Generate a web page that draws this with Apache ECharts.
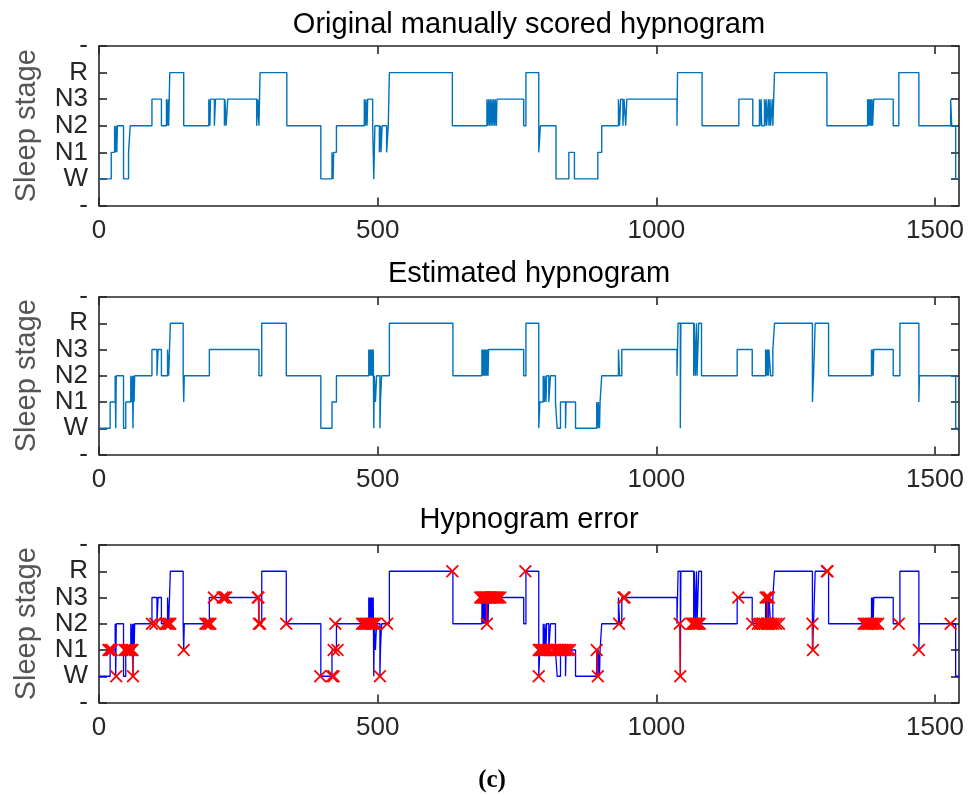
<!DOCTYPE html>
<html>
<head>
<meta charset="utf-8">
<script src="https://cdn.jsdelivr.net/npm/echarts@6/dist/echarts.min.js"></script>
<style>html,body{margin:0;padding:0;background:#fff}#c{width:973px;height:796px}</style>
</head>
<body>
<div id="c"></div>
<script>
// stage codes: 0=W, 1=N1, 2=N2, 3=N3, 4=R ; each pair = [epoch where stage starts, stage]
const stageLabels = ['-', 'W', 'N1', 'N2', 'N3', 'R', '-'];
const xTicks = [0, 500, 1000, 1500];
const lastEpoch = 1543;
const titles = ['Original manually scored hypnogram', 'Estimated hypnogram', 'Hypnogram error'];
const yName = 'Sleep stage';

const original = [[0,0],[22,1],[28,2],[30,1],[31,2],[32,1],[33,2],[44,0],[53,1],[56,2],[95,3],[112,2],[121,3],[123,2],[124,3],[125,2],[127,4],[152,2],[197,3],[199,2],[200,3],[207,2],[209,3],[225,2],[226,3],[228,2],[231,3],[283,2],[285,3],[287,2],[289,4],[337,2],[398,0],[418,1],[420,0],[421,1],[426,2],[476,3],[478,2],[479,3],[481,2],[482,3],[491,2],[492,1],[493,0],[494,1],[495,2],[503,1],[505,2],[506,1],[508,2],[516,1],[519,2],[521,4],[634,2],[696,3],[698,2],[699,3],[701,2],[702,3],[704,2],[705,3],[707,2],[708,3],[710,2],[711,3],[713,2],[714,3],[762,2],[766,4],[789,1],[792,2],[820,0],[843,1],[853,0],[895,1],[902,2],[932,3],[934,2],[936,3],[940,2],[942,3],[945,2],[947,3],[1037,2],[1038,4],[1082,2],[1148,3],[1173,2],[1185,3],[1186,2],[1188,3],[1189,2],[1194,3],[1195,2],[1197,3],[1198,2],[1201,3],[1202,2],[1204,3],[1205,2],[1208,3],[1209,2],[1212,4],[1306,2],[1379,3],[1380,2],[1381,3],[1382,2],[1383,3],[1384,2],[1385,3],[1386,2],[1387,3],[1388,2],[1390,3],[1425,2],[1435,4],[1471,2],[1528,3],[1530,2],[1537,0]];

const estimated = [[0,0],[20,1],[29,2],[30,0],[31,2],[44,0],[48,1],[57,2],[59,1],[60,2],[61,0],[62,2],[63,1],[64,2],[95,3],[104,2],[106,3],[112,2],[123,3],[125,2],[128,4],[151,2],[152,1],[153,2],[198,3],[287,2],[292,4],[336,2],[398,0],[418,1],[426,2],[484,3],[485,2],[486,3],[487,2],[488,3],[489,2],[490,3],[491,2],[492,3],[493,0],[494,2],[496,1],[498,2],[504,0],[505,1],[507,2],[521,4],[635,2],[687,3],[688,2],[689,3],[690,2],[691,3],[692,2],[693,3],[694,2],[695,3],[696,2],[697,3],[698,2],[699,3],[762,2],[766,4],[789,0],[791,1],[797,2],[799,1],[800,2],[802,1],[803,2],[807,1],[810,2],[819,1],[822,0],[828,1],[837,0],[838,1],[855,0],[893,1],[895,0],[896,1],[898,0],[899,1],[902,2],[932,3],[934,2],[938,3],[1037,2],[1039,4],[1043,0],[1044,4],[1067,2],[1068,4],[1070,2],[1072,4],[1073,2],[1076,4],[1081,2],[1145,3],[1172,2],[1196,3],[1197,2],[1198,3],[1199,2],[1200,3],[1201,2],[1202,3],[1205,2],[1209,3],[1212,4],[1280,1],[1282,2],[1285,4],[1309,2],[1386,3],[1387,2],[1388,3],[1389,2],[1390,3],[1425,2],[1437,4],[1471,1],[1472,2],[1537,0]];

// epochs where the estimate disagrees, at the estimated stage
const errors = [[17,1],[20,1],[23,1],[31,0],[46,1],[49,1],[52,1],[55,1],[58,1],[60,1],[61,0],[95,2],[101,2],[119,2],[122,2],[125,2],[128,2],[152,1],[191,2],[194,2],[197,2],[200,2],[206,3],[222,3],[225,3],[228,3],[285,3],[286,3],[287,2],[289,2],[336,2],[397,0],[418,0],[421,0],[424,2],[421,1],[428,1],[472,2],[475,2],[478,2],[481,2],[484,2],[487,2],[490,2],[493,2],[496,2],[504,0],[517,2],[634,4],[684,3],[686,3],[688,3],[690,3],[692,3],[694,3],[695,3],[696,2],[698,3],[700,3],[702,3],[704,3],[706,3],[708,3],[710,3],[712,3],[714,3],[717,3],[720,3],[765,4],[789,1],[791,1],[793,1],[795,1],[797,1],[799,1],[802,1],[805,1],[809,1],[816,1],[819,1],[822,1],[825,1],[828,1],[831,1],[834,1],[837,1],[841,1],[845,1],[789,0],[893,1],[895,0],[933,2],[941,3],[943,3],[1042,2],[1043,0],[1064,2],[1066,2],[1068,2],[1070,2],[1072,2],[1075,2],[1078,2],[1147,3],[1172,2],[1182,2],[1186,2],[1190,2],[1194,2],[1198,2],[1202,2],[1206,2],[1210,2],[1215,2],[1220,2],[1196,3],[1199,3],[1202,3],[1200,2],[1280,2],[1281,1],[1306,4],[1307,4],[1372,2],[1375,2],[1378,2],[1381,2],[1384,2],[1387,2],[1390,2],[1394,2],[1398,2],[1435,2],[1471,1],[1528,2]];

// consecutive error epochs joined by the red error line
const errorLinks = [[[60,1],[61,0]],[[286,3],[287,2]],[[695,3],[696,2]],[[893,1],[895,0]],[[1042,2],[1043,0]],[[1199,3],[1200,2]],[[1280,2],[1281,1]]];

function withEnd(arr) {
  return arr.concat([[lastEpoch, arr[arr.length - 1][1]]]);
}

const FONT = '"Liberation Sans", Arial, Helvetica, sans-serif';
const AX = '#262626';
const grids = [
  {left: 99, right: 14, top: 46, height: 159.5},
  {left: 99, right: 14, top: 297, height: 157.5},
  {left: 99, right: 14, top: 545, height: 157.5}
];

const xAxes = [], yAxes = [];
grids.forEach((g, i) => {
  const common = {
    gridIndex: i, type: 'value', min: 0, max: lastEpoch, interval: 500,
    axisLine: {show: true, onZero: false, lineStyle: {color: AX, width: 1.6}},
    axisTick: {show: true, inside: true, length: 8, lineStyle: {color: AX, width: 1.6},
               customValues: xTicks},
    splitLine: {show: false}
  };
  xAxes.push(Object.assign({}, common, {
    position: 'bottom',
    axisLabel: {show: true, fontSize: 26, color: AX, fontFamily: FONT, margin: 12,
                customValues: xTicks, formatter: v => String(v)}
  }));
  xAxes.push(Object.assign({}, common, {position: 'top', axisLabel: {show: false}}));
  const ycommon = {
    gridIndex: i, type: 'value', min: -1, max: 5, interval: 1,
    axisLine: {show: true, onZero: false, lineStyle: {color: AX, width: 1.6}},
    axisTick: {show: true, inside: true, length: 8, lineStyle: {color: AX, width: 1.6}},
    splitLine: {show: false}
  };
  yAxes.push(Object.assign({}, ycommon, {
    position: 'left',
    axisLabel: {show: true, fontSize: 26, color: AX, fontFamily: FONT, margin: 11,
                formatter: v => stageLabels[Math.round(v) + 1]}
  }));
  yAxes.push(Object.assign({}, ycommon, {position: 'right', axisLabel: {show: false}}));
});

const series = [
  {type: 'line', xAxisIndex: 0, yAxisIndex: 0, data: withEnd(original), step: 'end',
   showSymbol: false, lineStyle: {color: '#0072BD', width: 1.4}, animation: false},
  {type: 'line', xAxisIndex: 2, yAxisIndex: 2, data: withEnd(estimated), step: 'end',
   showSymbol: false, lineStyle: {color: '#0072BD', width: 1.4}, animation: false},
  {type: 'line', xAxisIndex: 4, yAxisIndex: 4, data: withEnd(estimated), step: 'end',
   showSymbol: false, lineStyle: {color: '#0000FF', width: 1.3}, animation: false, z: 2},
  {type: 'lines', coordinateSystem: 'cartesian2d', xAxisIndex: 4, yAxisIndex: 4,
   data: errorLinks.map(c => ({coords: c})),
   lineStyle: {color: '#FF0000', width: 1.5, opacity: 1}, animation: false, z: 3},
  {type: 'scatter', xAxisIndex: 4, yAxisIndex: 4, data: errors,
   symbol: 'path://M0,1L1,0L5,4L9,0L10,1L6,5L10,9L9,10L5,6L1,10L0,9L4,5Z',
   symbolSize: 13, itemStyle: {color: '#FF0000', opacity: 1}, animation: false, z: 4}
];

const graphic = [];
const titleY = [25, 274, 520];
titles.forEach((t, i) => {
  graphic.push({type: 'text', x: 529, y: titleY[i], silent: true,
    style: {text: t, font: '29px ' + FONT, fill: '#000', textAlign: 'center', textVerticalAlign: 'middle'}});
  const g = grids[i];
  graphic.push({type: 'text', x: 27, y: g.top + g.height / 2, rotation: Math.PI / 2, silent: true,
    style: {text: yName, font: '29px ' + FONT, fill: '#555555', textAlign: 'center', textVerticalAlign: 'middle'}});
});
graphic.push({type: 'text', x: 492, y: 781, silent: true,
  style: {text: '(c)', font: 'bold 25px "Liberation Serif", "Times New Roman", serif', fill: '#000',
          textAlign: 'center', textVerticalAlign: 'middle'}});

const chart = echarts.init(document.getElementById('c'), null, {renderer: 'canvas'});
chart.setOption({
  animation: false,
  backgroundColor: '#ffffff',
  grid: grids,
  xAxis: xAxes,
  yAxis: yAxes,
  series: series,
  graphic: graphic
});
</script>
</body>
</html>
